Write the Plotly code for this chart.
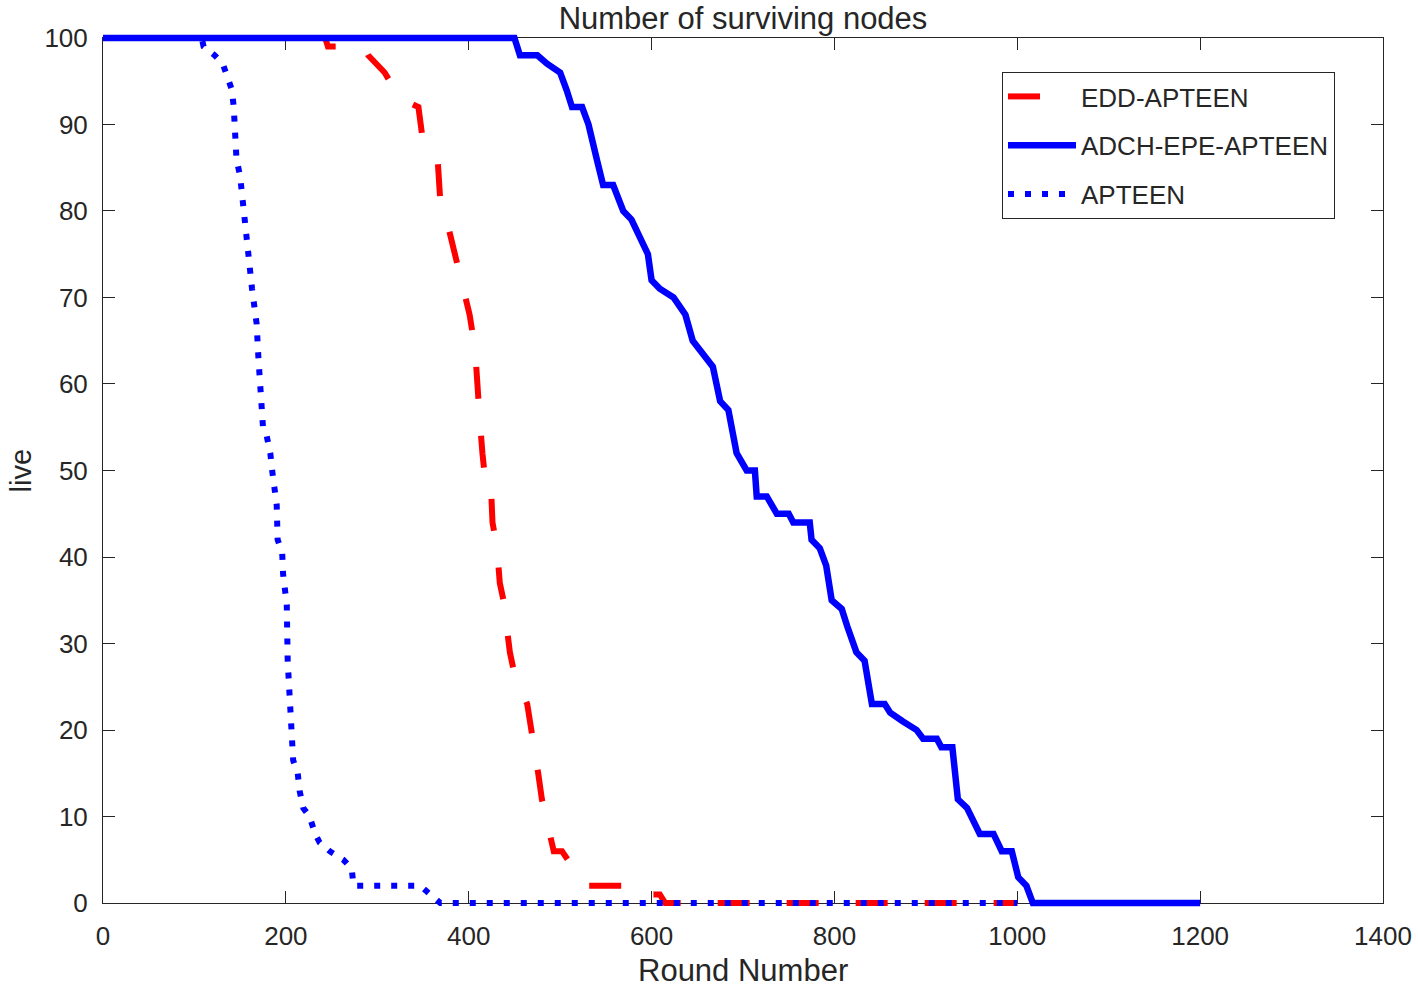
import plotly.graph_objects as go

# ---- data ----
edd_x = [0, 243, 246, 285, 290, 300, 308, 325, 345, 350, 356, 366, 369, 378, 387, 393, 401, 407,
         409, 412, 415, 418, 424, 426, 431, 434, 438, 445, 449, 452, 464, 469, 476, 480, 489, 493,
         502, 518, 525, 587, 593, 609, 615, 1000]
edd_y = [100, 100, 99, 99, 98, 97, 96, 93, 92, 88, 87, 86, 81, 78, 74, 71, 68, 64,
         60, 56, 52, 49, 49, 44, 41, 37, 35, 29, 27, 26, 23, 20, 15, 12, 8, 6,
         6, 3.5, 2, 2, 1, 1, 0, 0]

adch_x = [0, 450, 456, 475, 486, 500, 507, 513, 524, 531, 540, 547, 558, 569, 578, 587, 596, 600,
          609, 624, 637, 645, 661, 667, 675, 684, 693, 704, 713, 715, 726, 737, 750, 755, 773, 775,
          784, 791, 797, 808, 814, 824, 833, 841, 855, 861, 875, 890, 897, 912, 917, 929, 935, 945,
          959, 974, 983, 994, 1001, 1010, 1017, 1200]
adch_y = [100, 100, 98, 98, 97, 96, 94, 92, 92, 90, 86, 83, 83, 80, 79, 77, 75, 72,
          71, 70, 68, 65, 63, 62, 58, 57, 52, 50, 50, 47, 47, 45, 45, 44, 44, 42,
          41, 39, 35, 34, 32, 29, 28, 23, 23, 22, 21, 20, 19, 19, 18, 18, 12, 11,
          8, 8, 6, 6, 3, 2, 0, 0]

apt_x = [0, 108, 110, 122, 131, 137, 141, 143, 144, 146, 150, 153, 155, 157, 159, 161, 163, 166,
         168, 170, 172, 174, 175, 179, 183, 185, 188, 190, 191, 196, 197, 199, 201, 202, 205, 207,
         208, 213, 215, 219, 226, 232, 237, 248, 263, 272, 274, 292, 347, 358, 369, 1000]
apt_y = [100, 100, 99, 98, 97, 95, 94, 92, 90, 86, 84, 80.5, 79, 77, 75, 73, 71, 69,
         67, 63, 59, 57, 55, 54, 52, 50, 48, 46, 42, 40.5, 38, 36, 34.5, 28, 22, 18.5,
         16.5, 15, 13, 11, 10, 8, 7, 6, 5, 4, 2, 2, 2, 1, 0, 0]

names = ["EDD-APTEEN", "ADCH-EPE-APTEEN", "APTEEN"]
x_ticks = [0, 200, 400, 600, 800, 1000, 1200, 1400]
y_ticks = [0, 10, 20, 30, 40, 50, 60, 70, 80, 90, 100]

FONT = "Liberation Sans, Arial, sans-serif"
TXT = "#262626"
RED = "#ff0000"
BLUE = "#0000ff"

W, H = 1418, 991
L, R, T, B = 103, 35, 34, 84

fig = go.Figure()
# empty trace so that the frame/tick subplot (x, y) exists
fig.add_trace(go.Scatter(x=[], y=[], mode="lines", showlegend=False, hoverinfo="skip",
                         xaxis="x", yaxis="y"))
fig.add_trace(go.Scatter(x=edd_x, y=edd_y, mode="lines", name=names[0], legendgroup="a",
                         line=dict(color=RED, width=6, dash="32px,37px"),
                         xaxis="x", yaxis="y2"))
fig.add_trace(go.Scatter(x=adch_x, y=adch_y, mode="lines", name=names[1], legendgroup="b",
                         line=dict(color=BLUE, width=6.5),
                         xaxis="x", yaxis="y2"))
fig.add_trace(go.Scatter(x=apt_x, y=apt_y, mode="lines", name=names[2], legendgroup="c",
                         line=dict(color=BLUE, width=6, dash="6px,11px"),
                         xaxis="x", yaxis="y2"))

pad = 0.45
d = pad / (100 + 2 * pad)
plot_w = W - L - R
plot_h = H - T - B

fig.update_layout(
    width=W, height=H,
    margin=dict(l=L, r=R, t=T, b=B),
    paper_bgcolor="white", plot_bgcolor="rgba(0,0,0,0)",
    font=dict(family=FONT, color=TXT, size=26),
    title=dict(text="Number of surviving nodes", x=0.5, xref="paper", xanchor="center",
               y=1 - 18 / H, yref="container", yanchor="middle",
               font=dict(size=31, color=TXT, family=FONT)),
    xaxis=dict(range=[0, 1400], tickvals=x_ticks, ticks="inside", ticklen=12, tickwidth=1,
               tickcolor=TXT, showline=True, linecolor=TXT, linewidth=1, mirror="ticks",
               showgrid=False, zeroline=False, anchor="y", automargin=False,
               tickfont=dict(size=26, color=TXT), ticklabelstandoff=10),
    yaxis=dict(range=[0, 100], domain=[d, 1 - d], tickvals=y_ticks, ticks="inside", ticklen=12,
               tickwidth=1, tickcolor=TXT, showline=True, linecolor=TXT, linewidth=1,
               mirror="ticks", showgrid=False, zeroline=False, anchor="x", automargin=False,
               tickfont=dict(size=26, color=TXT), ticklabelstandoff=9),
    yaxis2=dict(range=[-pad, 100 + pad], domain=[0, 1], anchor="x", visible=False,
                showgrid=False, zeroline=False),
    legend=dict(x=(1002 - L) / plot_w, y=(T + plot_h - 72) / plot_h,
                xanchor="left", yanchor="top",
                bgcolor="white", bordercolor=TXT, borderwidth=1,
                font=dict(size=26, color=TXT, family=FONT), tracegroupgap=12,
                itemwidth=68),
    showlegend=True,
    annotations=[
        dict(text="live", textangle=-90, xref="paper", yref="paper",
             x=(20 - L) / plot_w, y=0.5, xanchor="center", yanchor="middle",
             showarrow=False, font=dict(size=29, color=TXT, family=FONT)),
        dict(text="Round Number", xref="paper", yref="paper",
             x=0.5, y=(H - B - 990) / plot_h, xanchor="center", yanchor="bottom",
             showarrow=False, font=dict(size=31, color=TXT, family=FONT)),
    ],
)

fig.write_html("out.html", config={"displayModeBar": False},
               post_script="document.body.style.margin='0';")
